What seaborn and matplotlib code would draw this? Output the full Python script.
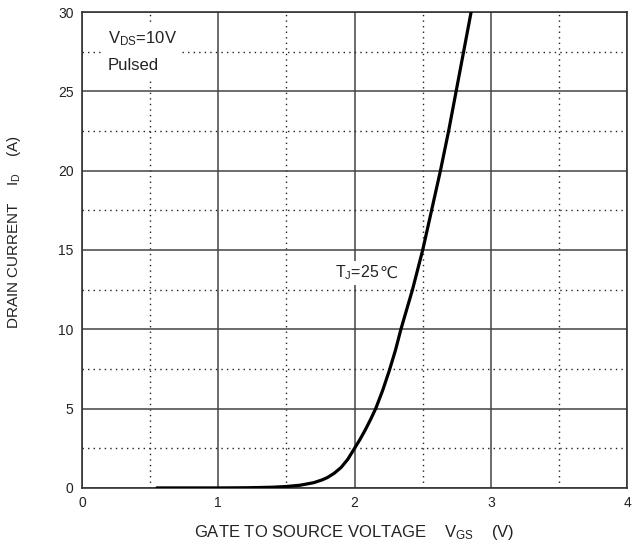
import matplotlib
matplotlib.use("Agg")
import matplotlib.pyplot as plt
import seaborn as sns
import pandas as pd
from matplotlib.ticker import MultipleLocator

# Data (Tj = 25C transfer curve)
vgs = [0.55, 1.0, 1.2, 1.3, 1.4, 1.5, 1.6, 1.7, 1.76, 1.8, 1.85, 1.9, 1.95, 2.0, 2.04,
       2.08, 2.12, 2.155, 2.205, 2.255, 2.30, 2.34, 2.425, 2.50, 2.565, 2.63, 2.69,
       2.745, 2.80, 2.855]
id_a = [0.0, 0.0, 0.01, 0.025, 0.045, 0.09, 0.17, 0.33, 0.5, 0.65, 0.92, 1.28, 1.8, 2.5, 3.06,
        3.68, 4.36, 5.0, 6.12, 7.4, 8.68, 10.0, 12.5, 15.0, 17.5, 20.0, 22.5,
        25.0, 27.5, 30.0]
x_ticks = [0, 1, 2, 3, 4]
y_ticks = [0, 5, 10, 15, 20, 25, 30]

sns.set_style("white")
plt.rcParams['font.family'] = ['Liberation Sans', 'DejaVu Sans']
plt.rcParams['mathtext.default'] = 'regular'

df = pd.DataFrame({"VGS": vgs, "ID": id_a})

fig = plt.figure(figsize=(6.4, 5.47), dpi=100)
ax = fig.add_axes([0.128, 0.108, 0.852, 0.870])

sns.lineplot(data=df, x="VGS", y="ID", ax=ax, color="black", linewidth=2.3,
             estimator=None, sort=False, zorder=5)

ax.set_xlim(0, 4)
ax.set_ylim(0, 30)
ax.xaxis.set_minor_locator(MultipleLocator(0.5))
ax.yaxis.set_minor_locator(MultipleLocator(2.5))
ax.set_xticks(x_ticks)
ax.set_yticks(y_ticks)
ax.set_xticklabels([str(t) for t in x_ticks])
ax.set_yticklabels([str(t) for t in y_ticks])

ax.grid(which="major", color="#444444", linestyle="-", linewidth=1.1)
ax.grid(which="minor", color="#222222", linestyle=(0, (1, 3)), linewidth=1.0)
ax.set_axisbelow(True)
for s in ax.spines.values():
    s.set_color("#333333")
    s.set_linewidth(1.2)

ax.tick_params(axis="both", which="both", length=0, labelsize=10, pad=6, colors="#222222")

ax.set_xlabel("GATE TO SOURCE VOLTAGE    V$_{GS}$    (V)", fontsize=12, labelpad=9, color="#222222")
ax.set_ylabel("DRAIN CURRENT    I$_{D}$    (A)", fontsize=11, color="#222222")
ax.yaxis.set_label_coords(-0.108, 0.538)

bb = dict(facecolor="white", edgecolor="none", pad=4)
ax.text(0.19, 28.3, "V$_{DS}$=10V", fontsize=12, color="#222222", va="center", bbox=bb, zorder=4)
ax.text(0.19, 26.6, "Pulsed", fontsize=12, color="#222222", va="center", bbox=bb, zorder=4)
t1 = ax.text(1.86, 13.55, "T$_{J}$=25", fontsize=11.5, color="#222222", va="center",
             bbox=dict(facecolor="white", edgecolor="none", pad=2), zorder=4)
ax.annotate("\u2103", xy=(1, 0.5), xycoords=t1, va="center", ha="left", fontsize=11.5,
            color="#222222", family="DejaVu Sans",
            bbox=dict(facecolor="white", edgecolor="none", pad=1.0), zorder=4)

fig.savefig("out.png", dpi=100, facecolor="white")
